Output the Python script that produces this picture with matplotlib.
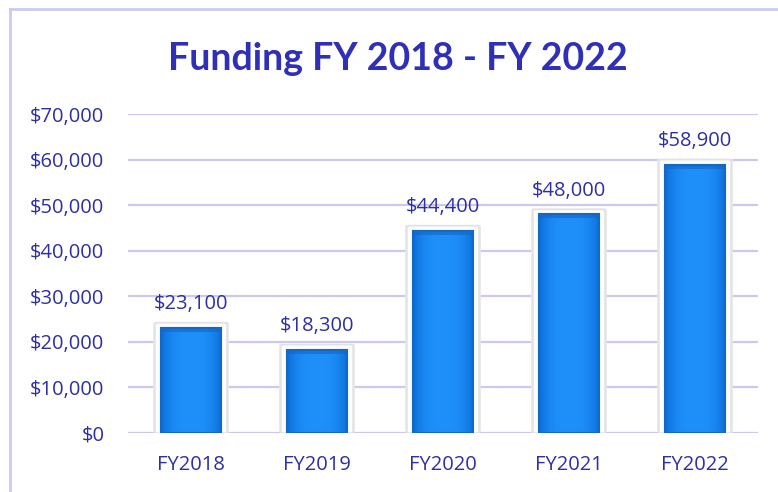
import matplotlib
matplotlib.use("Agg")
import matplotlib.pyplot as plt
import numpy as np
from matplotlib.patches import FancyBboxPatch, Rectangle
from matplotlib.lines import Line2D

categories = ["FY2018", "FY2019", "FY2020", "FY2021", "FY2022"]
values = [23100, 18300, 44400, 48000, 58900]
yticks = [0, 10000, 20000, 30000, 40000, 50000, 60000, 70000]
title = "Funding FY 2018 - FY 2022"

text_color = "#2E2EA8"
title_color = "#2F2FB8"
grid_color = "#CACAF0"
font = ["Open Sans", "DejaVu Sans"]

fig = plt.figure(figsize=(7.78, 4.92), dpi=100)
ax = fig.add_axes([128/778, 1-433/492, 630/778, 319/492])

ax.set_xlim(-0.5, len(categories) - 0.5)
ax.set_ylim(0, 70000)
ax.set_yticks(yticks)
ax.set_yticklabels([f"${v:,.0f}" for v in yticks], fontsize=14.5, color=text_color,
                   fontfamily=font)
ax.set_xticks(range(len(categories)))
ax.set_xticklabels(categories, fontsize=14.5, color=text_color, fontfamily=font)
ax.tick_params(axis="y", length=0, pad=17)
ax.tick_params(axis="x", length=0, pad=16)
for s in ax.spines.values():
    s.set_visible(False)
ax.yaxis.grid(True, color=grid_color, linewidth=1.6)
ax.set_axisbelow(True)

grad = np.linspace(0, 1, 64)
xx = np.abs(grad - 0.5) * 2
cmap_img = np.zeros((2, 64, 4))
base = np.array([0.12, 0.56, 0.98])
edge = np.array([0.04, 0.43, 0.84])
for i, t in enumerate(xx):
    c = base * (1 - t**3) + edge * t**3
    cmap_img[:, i, :3] = c
    cmap_img[:, i, 3] = 1

pad = 1300
for i, v in enumerate(values):
    shadow = FancyBboxPatch((i - 0.30, 0), 0.60, v + pad,
                            boxstyle="round,pad=0,rounding_size=0.02",
                            facecolor="#E6E6E6", edgecolor="none", zorder=2,
                            mutation_aspect=20000)
    ax.add_patch(shadow)
    frame = FancyBboxPatch((i - 0.285, 0), 0.57, v + pad * 0.8,
                           boxstyle="round,pad=0,rounding_size=0.02",
                           facecolor="#FCFCFC", edgecolor="#E0E0E0", linewidth=0.8,
                           zorder=3, mutation_aspect=20000)
    ax.add_patch(frame)
    rect = Rectangle((i - 0.24, 0), 0.48, v, facecolor="none", edgecolor="#1268C8",
                     linewidth=1.5, zorder=5)
    ax.add_patch(rect)
    im = ax.imshow(cmap_img, extent=(i - 0.24, i + 0.24, 0, v), aspect="auto",
                   zorder=4, interpolation="bicubic")
    im.set_clip_path(rect)
    ax.add_patch(Rectangle((i - 0.24, v - 900), 0.48, 900, facecolor="#1565C0",
                           edgecolor="none", zorder=4.5, alpha=0.6))
    ax.text(i, v + 3000, f"${v:,.0f}", ha="center", va="bottom", fontsize=14.5,
            color=text_color, fontfamily=font, zorder=6)

ax.set_xlim(-0.5, len(categories) - 0.5)
ax.set_ylim(0, 70000)

fig.text(398/778, 1 - 59/492, title, ha="center", va="center", fontsize=27,
         fontweight="bold", color=title_color, fontfamily=["Lato", "DejaVu Sans"])

fig.add_artist(Line2D([10/778, 10/778], [0, 1 - 9/492], transform=fig.transFigure,
                      color="#CACAF0", linewidth=2))
fig.add_artist(Line2D([10/778, 1], [1 - 9/492, 1 - 9/492], transform=fig.transFigure,
                      color="#CACAF0", linewidth=2))

fig.savefig("out.png", dpi=100)
